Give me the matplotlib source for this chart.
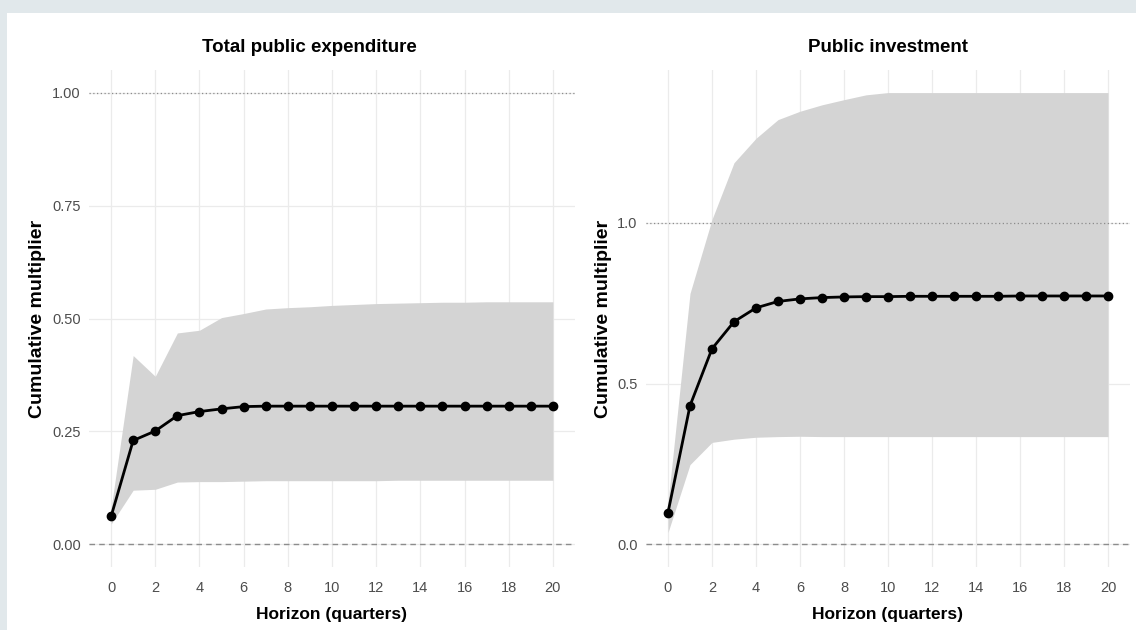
import matplotlib
matplotlib.use("Agg")
import matplotlib.pyplot as plt
from matplotlib.patches import Rectangle

plt.rcParams['font.family'] = ['Liberation Sans', 'DejaVu Sans']

horizon = list(range(21))

# total public expenditure: point estimate and band
tpe_mult = [0.062, 0.230, 0.251, 0.285, 0.294, 0.300, 0.305, 0.306, 0.306, 0.306, 0.306,
            0.306, 0.306, 0.306, 0.306, 0.306, 0.306, 0.306, 0.306, 0.306, 0.306]
tpe_lo = [0.045, 0.120, 0.122, 0.138, 0.139, 0.139, 0.140, 0.141, 0.141, 0.141, 0.141,
          0.141, 0.141, 0.142, 0.142, 0.142, 0.142, 0.142, 0.142, 0.142, 0.142]
tpe_hi = [0.080, 0.418, 0.372, 0.468, 0.474, 0.502, 0.511, 0.521, 0.524, 0.526, 0.529,
          0.531, 0.533, 0.534, 0.535, 0.536, 0.536, 0.537, 0.537, 0.537, 0.537]

# public investment
inv_mult = [0.099, 0.431, 0.608, 0.692, 0.735, 0.755, 0.763, 0.767, 0.769, 0.770, 0.770,
            0.771, 0.771, 0.771, 0.771, 0.771, 0.772, 0.772, 0.772, 0.772, 0.772]
inv_lo = [0.037, 0.248, 0.317, 0.327, 0.333, 0.335, 0.336, 0.335, 0.335, 0.335, 0.335,
          0.335, 0.335, 0.335, 0.335, 0.335, 0.335, 0.335, 0.335, 0.335, 0.335]
inv_hi = [0.130, 0.780, 1.010, 1.186, 1.262, 1.320, 1.346, 1.366, 1.382, 1.397, 1.404,
          1.404, 1.404, 1.404, 1.404, 1.404, 1.404, 1.404, 1.404, 1.404, 1.404]

panels = [
    ("Total public expenditure", tpe_mult, tpe_lo, tpe_hi,
     [0.0, 0.25, 0.5, 0.75, 1.0], ["0.00", "0.25", "0.50", "0.75", "1.00"], 0.453),
    ("Public investment", inv_mult, inv_lo, inv_hi,
     [0.0, 0.5, 1.0], ["0.0", "0.5", "1.0"], 0.5),
]

fig = plt.figure(figsize=(11.36, 6.3), dpi=100)
fig.patch.set_facecolor("white")
# light frame strips along top and left
fig.add_artist(Rectangle((0, 1 - 13 / 630), 1, 13 / 630, transform=fig.transFigure,
                         facecolor="#e1e8eb", edgecolor="none"))
fig.add_artist(Rectangle((0, 0), 7 / 1136, 1, transform=fig.transFigure,
                         facecolor="#e1e8eb", edgecolor="none"))

boxes = [[89 / 1136, 63 / 630, 486 / 1136, 497 / 630],
         [646 / 1136, 63 / 630, 484 / 1136, 497 / 630]]

for box, (title, mult, lo, hi, yt, ytl, tx) in zip(boxes, panels):
    ax = fig.add_axes(box)
    ax.set_facecolor("white")
    for s in ax.spines.values():
        s.set_visible(False)

    ymax = max(max(hi), 1.0)
    pad = 0.05 * ymax
    ax.set_ylim(-pad, ymax + pad)
    ax.set_xlim(-1, 21)

    ax.set_xticks(range(0, 21, 2))
    ax.set_yticks(yt)
    ax.set_yticklabels(ytl)
    ax.grid(True, color="#ebebeb", linewidth=0.9)
    ax.set_axisbelow(True)
    ax.tick_params(length=0, labelsize=10.5, labelcolor="#4d4d4d")
    ax.tick_params(axis="x", pad=10)
    ax.tick_params(axis="y", pad=6)

    ax.fill_between(horizon, lo, hi, color="#d4d4d4", linewidth=0, zorder=1)
    ax.axhline(1.0, color="#8c8c8c", linestyle=(0, (1, 2)), linewidth=0.9, zorder=2)
    ax.axhline(0.0, color="#8c8c8c", linestyle=(0, (4, 3)), linewidth=1.0, zorder=2)
    ax.plot(horizon, mult, color="black", linewidth=2.0, marker="o",
            markersize=6, zorder=3)

    ax.set_title(title, fontsize=13.5, fontweight="bold", pad=13, x=tx)
    ax.set_xlabel("Horizon (quarters)", fontsize=12.5, fontweight="bold", labelpad=9)
    ax.set_ylabel("Cumulative multiplier", fontsize=14, fontweight="bold", labelpad=4)

fig.savefig("out.png", dpi=100)
